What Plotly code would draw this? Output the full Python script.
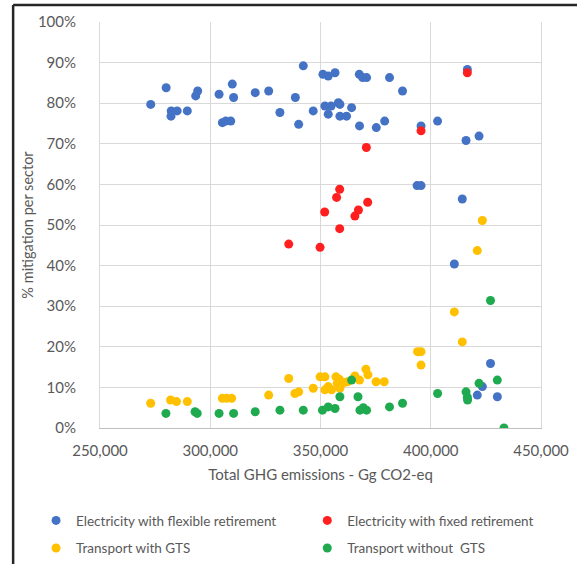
import plotly.graph_objects as go

# Total GHG emissions (Gg CO2-eq) and % mitigation per sector, by scenario family
elec_flex_x = [273000, 280000, 282300, 282200, 285000, 289600, 294300, 293400, 304000, 310000,
               310600, 305500, 307000, 309300, 320400, 326500, 331600, 338600, 342200, 340100,
               346700, 351100, 353500, 356600, 352000, 354800, 358100, 358800, 353500, 358800,
               361800, 364100, 367600, 369100, 370900, 367700, 375300, 379100, 381300, 387200,
               395600, 403100, 416600, 416000, 421900, 393800, 395600, 414300, 410700, 427100,
               423400, 421100, 430200]
elec_flex_y = [79.7, 83.8, 78.1, 76.8, 78.1, 78.1, 83.0, 81.8, 82.2, 84.7,
               81.4, 75.2, 75.6, 75.6, 82.6, 83.0, 77.7, 81.4, 89.2, 74.8,
               78.1, 87.1, 86.7, 87.5, 79.3, 79.3, 80.1, 79.7, 77.3, 76.8,
               76.8, 78.9, 87.1, 86.3, 86.3, 74.4, 74.0, 75.6, 86.3, 83.0,
               74.4, 75.6, 88.3, 70.8, 71.9, 59.7, 59.7, 56.4, 40.4, 15.9,
               10.2, 8.1, 7.7]

elec_fixed_x = [395600, 416600, 370800, 358700, 357300, 371400, 351900, 367200, 365600, 358700,
                335600, 349800]
elec_fixed_y = [73.2, 87.5, 69.1, 58.8, 56.8, 55.6, 53.2, 53.7, 52.2, 49.1,
                45.3, 44.5]

trans_gts_x = [273000, 282000, 284700, 289600, 305500, 307400, 309700, 326500, 335600, 338400,
               340100, 346700, 349800, 352000, 352000, 353500, 355000, 357000, 358500, 357600,
               358800, 360700, 362300, 365600, 367700, 370600, 371500, 375200, 378900, 394000,
               395600, 395600, 410700, 414300, 421100, 423400]
trans_gts_y = [6.1, 6.9, 6.5, 6.5, 7.3, 7.3, 7.3, 8.1, 12.2, 8.5,
               8.9, 9.8, 12.6, 12.6, 9.4, 10.2, 9.4, 12.6, 12.0, 11.0,
               9.8, 11.2, 11.4, 12.8, 11.8, 14.5, 13.1, 11.4, 11.4, 18.8,
               18.8, 15.5, 28.6, 21.2, 43.7, 51.1]

trans_nogts_x = [279900, 293100, 294100, 304000, 310600, 320400, 331600, 342200, 350900, 353500,
                 356600, 358800, 364100, 367000, 367900, 369400, 370900, 381300, 387200, 403100,
                 416000, 416600, 416700, 421900, 430200, 427100, 433200]
trans_nogts_y = [3.6, 4.0, 3.6, 3.6, 3.6, 4.0, 4.4, 4.4, 4.4, 5.2,
                 4.8, 7.7, 11.8, 7.7, 4.4, 5.0, 4.4, 5.2, 6.1, 8.5,
                 8.9, 7.6, 6.9, 11.0, 11.8, 31.4, 0.0]

pct_ticks = list(range(0, 101, 10))
pct_labels = [f"{v}%" for v in pct_ticks]
x_ticks = [250000, 300000, 350000, 400000, 450000]

# (name, x, y, colour, legend column)
series = [
    ("Electricity with flexible retirement", elec_flex_x, elec_flex_y, "#4472C4", "legend"),
    ("Electricity with fixed retirement", elec_fixed_x, elec_fixed_y, "#FF1F1F", "legend2"),
    ("Transport with GTS", trans_gts_x, trans_gts_y, "#FFC000", "legend"),
    ("Transport without  GTS", trans_nogts_x, trans_nogts_y, "#1FAA4F", "legend2"),
]

FONT = "Lato, 'Open Sans', sans-serif"
GREY = "#595959"

fig = go.Figure()
for name, xs, ys, color, leg in series:
    fig.add_trace(go.Scatter(
        x=xs, y=ys, mode="markers", name=name, legend=leg, legendgroup=name,
        marker=dict(color=color, size=9, line=dict(width=0)),
    ))

legend_common = dict(
    orientation="v", xanchor="left", yanchor="top", itemwidth=30,
    font=dict(size=13.5, color=GREY), tracegroupgap=7, bgcolor="rgba(0,0,0,0)",
)

fig.update_layout(
    width=577, height=564,
    margin=dict(l=100, r=36, t=22, b=136, autoexpand=False),
    paper_bgcolor="white", plot_bgcolor="white",
    font=dict(family=FONT, color=GREY, size=14),
    legend=dict(x=-0.145, y=-0.19, **legend_common),
    legend2=dict(x=0.47, y=-0.19, **legend_common),
    shapes=[
        # outer frame: top and left edges
        dict(type="line", xref="paper", yref="paper", x0=-0.197, x1=1.1, y0=1.042, y1=1.042,
             line=dict(color="#262626", width=2.5)),
        dict(type="line", xref="paper", yref="paper", x0=-0.197, x1=-0.197, y0=1.042, y1=-0.4,
             line=dict(color="#262626", width=2.5)),
    ],
)

fig.update_xaxes(
    range=[250000, 450000], tickvals=x_ticks,
    tickformat=",", showgrid=True, gridcolor="#D9D9D9", gridwidth=1,
    showline=True, linecolor="#BFBFBF", linewidth=1, zeroline=False,
    ticks="", ticklabelstandoff=9, tickfont=dict(size=15, color=GREY),
    title=dict(text="Total GHG emissions - Gg CO2-eq", standoff=11,
               font=dict(size=15, color=GREY)),
)
fig.update_yaxes(
    range=[0, 100], tickvals=pct_ticks, ticktext=pct_labels,
    showgrid=True, gridcolor="#D9D9D9", gridwidth=1,
    showline=True, mirror=True, linecolor="#D9D9D9", linewidth=1, zeroline=False,
    ticks="", ticklabelstandoff=20, tickfont=dict(size=15, color=GREY),
    title=dict(text="% mitigation per sector", standoff=0,
               font=dict(size=14.5, color=GREY)),
)

fig.write_html("out.html")
